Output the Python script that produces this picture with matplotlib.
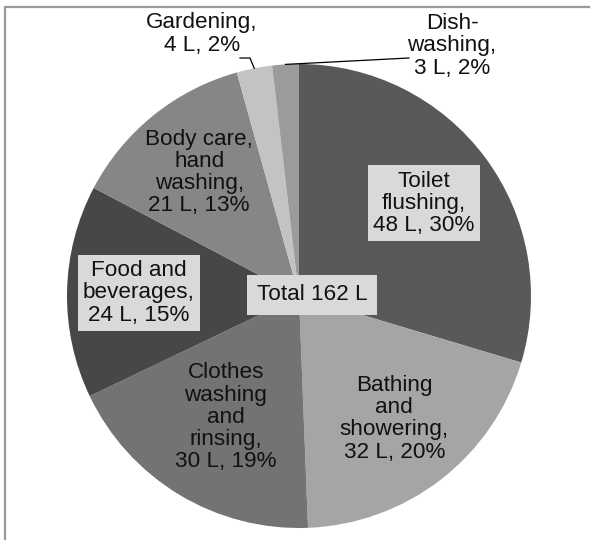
import numpy as np
import matplotlib
matplotlib.use("Agg")
import matplotlib.pyplot as plt
from matplotlib.patches import Rectangle

plt.rcParams['font.family'] = ['Liberation Sans', 'DejaVu Sans']

# Daily household water use per person (litres)
categories = ["Toilet\nflushing", "Bathing\nand\nshowering", "Clothes\nwashing\nand\nrinsing",
              "Food and\nbeverages", "Body care,\nhand\nwashing", "Gardening", "Dish-\nwashing"]
litres = [48, 32, 30, 24, 21, 4, 3]
percents = [30, 20, 19, 15, 13, 2, 2]
total_litres = 162

colors = ["#595959", "#a5a5a5", "#737373", "#474747", "#868686", "#c3c3c3", "#9b9b9b"]
boxed = [True, False, False, True, False, False, False]
label_dist = [0.67, 0.67, 0.61, 0.69, 0.685, None, None]

W, H = 590, 540
fig = plt.figure(figsize=(W / 100, H / 100), dpi=100)
ax = fig.add_axes([0, 0, 1, 1])

# frame around the chart area
fig.patches.append(Rectangle((5 / W, -0.1), 1.2, (H - 6.5) / H + 0.1, transform=fig.transFigure,
                             fill=False, edgecolor="#9a9a9a", linewidth=1.6))

cx, cy, R = 299, H - 296, 232
wedges, _ = ax.pie(litres, colors=colors, startangle=90, counterclock=False,
                   center=(cx, cy), radius=R, frame=True,
                   wedgeprops=dict(linewidth=0))
ax.set_xlim(0, W)
ax.set_ylim(0, H)
ax.set_aspect("equal")
ax.axis("off")

fs = 16.2
ls = 1.07
box = dict(boxstyle="square,pad=0.24", facecolor="#d9d9d9", edgecolor="none")

def label_text(name, v, p):
    return f"{name},\n{v} L, {p}%"

for w, name, v, p, bx, d in zip(wedges, categories, litres, percents, boxed, label_dist):
    if d is None:
        continue
    mid = np.deg2rad((w.theta1 + w.theta2) / 2)
    x = cx + R * d * np.cos(mid)
    y = cy + R * d * np.sin(mid)
    ax.text(x, y, label_text(name, v, p), ha="center", va="center", fontsize=fs,
            linespacing=ls, color="#111111", bbox=box if bx else None)

def edge_point(w):
    mid = np.deg2rad((w.theta1 + w.theta2) / 2)
    return cx + R * np.cos(mid), cy + R * np.sin(mid)

# Gardening label with hooked leader line
gx, gy = edge_point(wedges[5])
ax.text(202, H - 34, label_text(categories[5], litres[5], percents[5]), ha="center",
        va="center", fontsize=fs, linespacing=ls, color="#111111")
ax.plot([240, 250, gx], [H - 58, H - 58, gy], color="black", linewidth=0.9)

# Dishwashing label with straight leader line
dx, dy = edge_point(wedges[6])
ax.text(452, H - 46, label_text(categories[6], litres[6], percents[6]), ha="center",
        va="center", fontsize=fs, linespacing=ls, color="#111111")
ax.plot([dx, 409], [dy, H - 58], color="black", linewidth=0.9)

# total in the middle
ax.text(312, H - 295, f"Total {total_litres} L", ha="center", va="center", fontsize=fs,
        color="#111111", bbox=dict(boxstyle="square,pad=0.42", facecolor="#d9d9d9", edgecolor="none"))

fig.savefig("out.png", dpi=100)
